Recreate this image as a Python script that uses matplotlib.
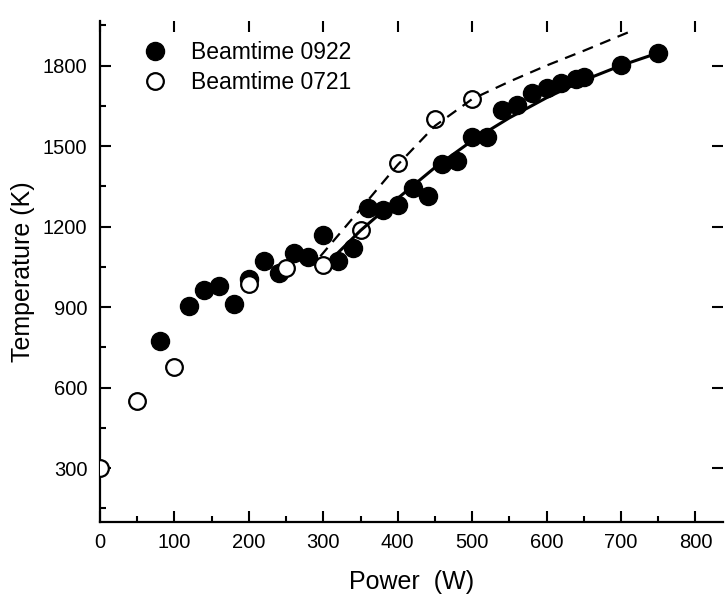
import matplotlib
matplotlib.use("Agg")
import matplotlib.pyplot as plt
from matplotlib.ticker import MultipleLocator

plt.rcParams['font.family'] = ['Liberation Sans', 'DejaVu Sans']

# Beamtime 0922 (filled)
p0922 = [80, 120, 140, 160, 180, 200, 220, 240, 260, 280, 300, 320, 340, 360, 380,
         400, 420, 440, 460, 480, 500, 520, 540, 560, 580, 600, 620, 640, 650, 700, 750]
t0922 = [772, 902, 962, 980, 912, 1003, 1070, 1027, 1100, 1087, 1168, 1070, 1120, 1270, 1260,
         1281, 1343, 1312, 1434, 1443, 1534, 1532, 1636, 1651, 1697, 1716, 1735, 1750, 1756, 1803, 1847]

# Beamtime 0721 (open)
p0721 = [0, 50, 100, 200, 250, 300, 350, 400, 450, 500]
t0721 = [300, 551, 675, 986, 1045, 1055, 1187, 1435, 1602, 1677]

# Fit curve for 0922 (solid)
fit_p_0922 = [316, 350, 400, 450, 500, 550, 600, 650, 700, 750]
fit_t_0922 = [1092, 1185, 1305, 1420, 1520, 1605, 1680, 1745, 1800, 1847]

# Fit curve for 0721 (dashed)
fit_p_0721 = [296, 350, 400, 450, 500, 550, 600, 650, 710]
fit_t_0721 = [1089, 1265, 1430, 1575, 1675, 1740, 1800, 1855, 1924]

fig = plt.figure(figsize=(7.25, 5.94), dpi=100)
ax = fig.add_axes([100/725, (594-521.7)/594, 623/725, 501/594])

ax.plot(p0922, t0922, 'o', color='black', markersize=13, zorder=3,
        label='Beamtime 0922')
ax.plot(p0721, t0721, 'o', markerfacecolor='white', markeredgecolor='black',
        markeredgewidth=1.6, markersize=12, zorder=4, label='Beamtime 0721')
ax.plot(fit_p_0922, fit_t_0922, '-', color='black', lw=2.2, zorder=5)
ax.plot(fit_p_0721, fit_t_0721, '--', color='black', lw=1.6, dashes=(5, 3.5), zorder=5)

ax.set_xlim(0, 837)
ax.set_ylim(100, 1967)

ax.xaxis.set_major_locator(MultipleLocator(100))
ax.xaxis.set_minor_locator(MultipleLocator(50))
ax.yaxis.set_major_locator(MultipleLocator(300))
ax.yaxis.set_minor_locator(MultipleLocator(150))

for s in ['top', 'right']:
    ax.spines[s].set_visible(False)
for s in ['left', 'bottom']:
    ax.spines[s].set_linewidth(1.6)

ax.tick_params(which='major', direction='in', length=8, width=1.5, labelsize=14.5)
ax.tick_params(axis='y', which='major', pad=9)
ax.tick_params(axis='x', which='major', pad=8)
ax.tick_params(which='minor', direction='in', length=4, width=1.5)

# top and right ticks (major only, no spine line)
secx = ax.secondary_xaxis('top')
secx.xaxis.set_major_locator(MultipleLocator(100))
secx.tick_params(which='major', direction='in', length=8, width=1.5, labeltop=False)
secx.spines['top'].set_visible(False)
secy = ax.secondary_yaxis('right')
secy.yaxis.set_major_locator(MultipleLocator(300))
secy.tick_params(which='major', direction='in', length=8, width=1.5, labelright=False)
secy.spines['right'].set_visible(False)

ax.set_xlabel('Power  (W)', fontsize=18, labelpad=13)
ax.set_ylabel('Temperature (K)', fontsize=18, labelpad=6)

ax.legend(loc='upper left', bbox_to_anchor=(0.037, 0.978), frameon=False, fontsize=16.5,
          handletextpad=0.55, labelspacing=0.3, borderaxespad=0)

fig.savefig('out.png', dpi=100)
